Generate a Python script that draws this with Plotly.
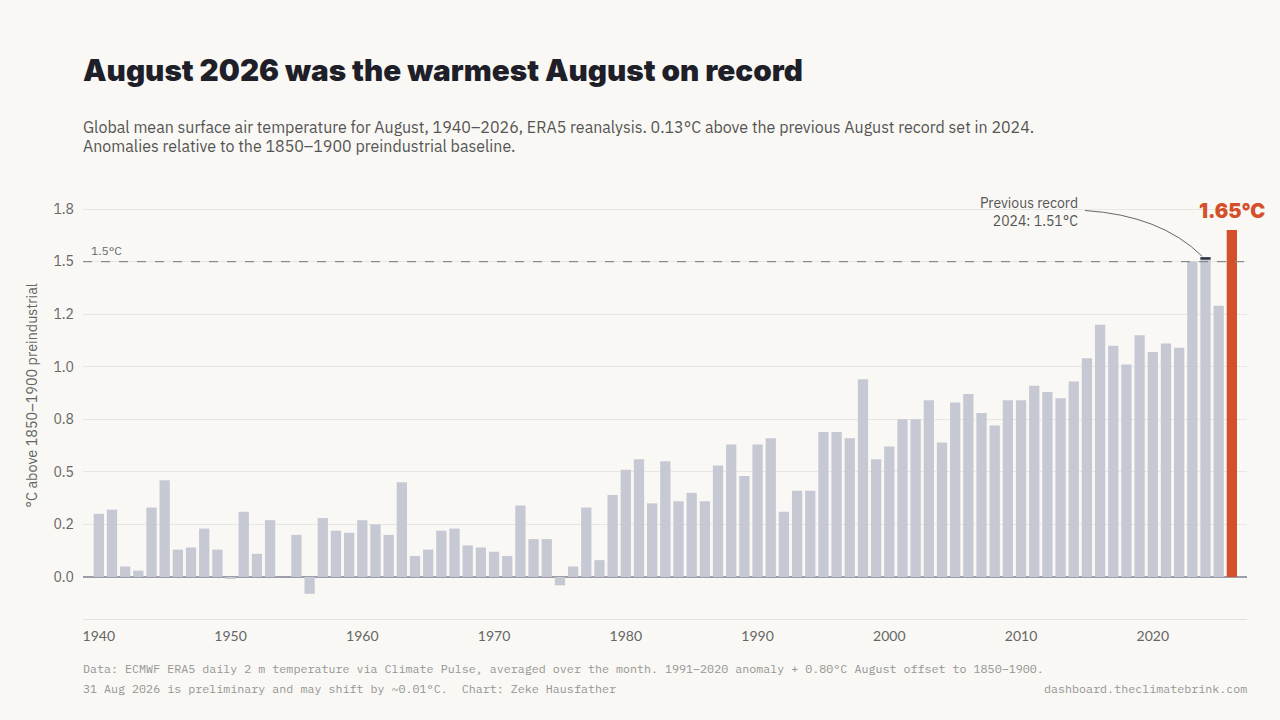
import plotly.graph_objects as go

years = list(range(1940, 2027))
anomaly = [0.30, 0.32, 0.05, 0.03, 0.33, 0.46, 0.13, 0.14, 0.23, 0.13,
           -0.01, 0.31, 0.11, 0.27, 0.00, 0.20, -0.08, 0.28, 0.22, 0.21,
           0.27, 0.25, 0.20, 0.45, 0.10, 0.13, 0.22, 0.23, 0.15, 0.14,
           0.12, 0.10, 0.34, 0.18, 0.18, -0.04, 0.05, 0.33, 0.08, 0.39,
           0.51, 0.56, 0.35, 0.55, 0.36, 0.40, 0.36, 0.53, 0.63, 0.48,
           0.63, 0.66, 0.31, 0.41, 0.41, 0.69, 0.69, 0.66, 0.94, 0.56,
           0.62, 0.75, 0.75, 0.84, 0.64, 0.83, 0.87, 0.78, 0.72, 0.84,
           0.84, 0.91, 0.88, 0.85, 0.93, 1.04, 1.20, 1.10, 1.01, 1.15,
           1.07, 1.11, 1.09, 1.50, 1.51, 1.29, 1.65]
y_ticks = [0, 0.25, 0.5, 0.75, 1.0, 1.25, 1.5, 1.75]
# labels rounded half-to-even, as in the original
y_tick_text = ["0.0", "0.2", "0.5", "0.8", "1.0", "1.2", "1.5", "1.8"]
x_ticks = [1940, 1950, 1960, 1970, 1980, 1990, 2000, 2010, 2020]

current_year = 2026
prev_year = 2024
prev_val = anomaly[years.index(prev_year)]
cur_val = anomaly[years.index(current_year)]

BG = "#f9f8f4"
GREY_BAR = "#c6c8d4"
RED = "#d4502b"
INK = "#1f1f29"
MUTED = "#666666"
SANS = "IBM Plex Sans, Noto Sans, Open Sans, sans-serif"
MONO = "IBM Plex Mono, Liberation Mono, DejaVu Sans Mono, monospace"
HEAVY = "Inter, sans-serif"

colors = [RED if y == current_year else GREY_BAR for y in years]

fig = go.Figure()
fig.add_trace(go.Bar(x=years, y=anomaly, marker=dict(color=colors, line=dict(width=0)),
                     hoverinfo="x+y", showlegend=False))

# 1.5C threshold
fig.add_shape(type="line", xref="paper", x0=0, x1=1, yref="y", y0=1.5, y1=1.5,
              line=dict(color="#8a8a8a", width=1.2, dash="dash"), layer="above")
fig.add_annotation(xref="paper", x=0.005, yref="y", y=1.5, yshift=2, text="1.5°C",
                   showarrow=False, xanchor="left", yanchor="bottom",
                   font=dict(family=SANS, size=12, color=MUTED))

# previous record marker + callout
fig.add_shape(type="line", x0=prev_year - 0.39, x1=prev_year + 0.39, y0=prev_val + 0.005, y1=prev_val + 0.005,
              line=dict(color="#2a2d3e", width=2.5))
fig.add_shape(type="path", path=f"M 2014.85,1.743 Q 2020.6,1.72 {prev_year - 0.25},{prev_val + 0.015}",
              line=dict(color="#666666", width=1))
fig.add_annotation(x=2014.5, y=1.738, text=f"Previous record<br>{prev_year}: {prev_val:.2f}°C",
                   showarrow=False, xanchor="right", yanchor="middle", align="right",
                   font=dict(family=SANS, size=14, color="#555555"))
fig.add_annotation(x=current_year, y=cur_val, yshift=5, text=f"{cur_val:.2f}°C", showarrow=False,
                   xanchor="center", yanchor="bottom",
                   font=dict(family=HEAVY, size=20, color=RED, weight=900))

# title, subtitle, footer
fig.add_annotation(xref="paper", yref="paper", x=0, xshift=-2, y=1.274,
                   text="August 2026 was the warmest August on record",
                   showarrow=False, xanchor="left", yanchor="middle",
                   font=dict(family=HEAVY, size=29.7, color=INK, weight=900))
fig.add_annotation(xref="paper", yref="paper", x=0, xshift=-2, y=(619 - 127) / 431,
                   text="Global mean surface air temperature for August, 1940–2026, ERA5 reanalysis. "
                        "0.13°C above the previous August record set in 2024.",
                   showarrow=False, xanchor="left", yanchor="middle",
                   font=dict(family=SANS, size=16, color="#555555"))
fig.add_annotation(xref="paper", yref="paper", x=0, xshift=-2, y=(619 - 146) / 431,
                   text="Anomalies relative to the 1850–1900 preindustrial baseline.",
                   showarrow=False, xanchor="left", yanchor="middle",
                   font=dict(family=SANS, size=16, color="#555555"))
fig.add_annotation(xref="paper", yref="paper", x=0, xshift=-2, y=(619 - 668) / 431,
                   text="Data: ECMWF ERA5 daily 2 m temperature via Climate Pulse, averaged over the month. "
                        "1991–2020 anomaly + 0.80°C August offset to 1850–1900.",
                   showarrow=False, xanchor="left", yanchor="middle",
                   font=dict(family=MONO, size=11.7, color="#959595"))
fig.add_annotation(xref="paper", yref="paper", x=0, xshift=-2, y=(619 - 688) / 431,
                   text="31 Aug 2026 is preliminary and may shift by ~0.01°C.  Chart: Zeke Hausfather",
                   showarrow=False, xanchor="left", yanchor="middle",
                   font=dict(family=MONO, size=11.7, color="#959595"))
fig.add_annotation(xref="paper", yref="paper", x=1, xshift=2, y=(619 - 688) / 431,
                   text="dashboard.theclimatebrink.com",
                   showarrow=False, xanchor="right", yanchor="middle",
                   font=dict(family=MONO, size=11.7, color="#959595"))
fig.add_annotation(xref="paper", yref="paper", x=-0.044, y=0.52, text="°C above 1850–1900 preindustrial",
                   textangle=-90, showarrow=False, xanchor="center", yanchor="middle",
                   font=dict(family=SANS, size=14.4, color=MUTED))

fig.update_layout(
    width=1280, height=720,
    paper_bgcolor=BG, plot_bgcolor=BG,
    margin=dict(l=83, r=33, t=188, b=101),
    bargap=0.22,
    xaxis=dict(range=[1938.8, 2027.15], tickvals=x_ticks, showgrid=False, zeroline=False,
               showline=True, linecolor="#e2e2de", linewidth=1, ticks="",
               tickfont=dict(family="Lato, sans-serif", size=14, color=MUTED), ticklabelstandoff=4),
    yaxis=dict(range=[-0.2, 1.85], tickvals=y_ticks, ticktext=y_tick_text, showgrid=True,
               gridcolor="#e6e6e2", gridwidth=1, zeroline=True, zerolinecolor="#9c9da8",
               zerolinewidth=1.5, ticks="", ticklabelstandoff=8,
               tickfont=dict(family=SANS, size=14, color=MUTED)),
    font=dict(family=SANS),
)

fig.write_html("out.html", config={"displayModeBar": False},
               post_script="document.body.style.margin='0';")
